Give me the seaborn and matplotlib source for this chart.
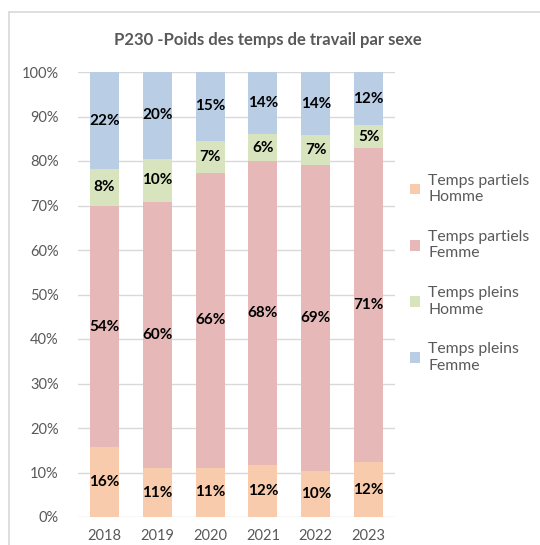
import matplotlib
matplotlib.use("Agg")
import matplotlib.pyplot as plt
from matplotlib.lines import Line2D
import seaborn as sns
import pandas as pd
import numpy as np

years = ["2018", "2019", "2020", "2021", "2022", "2023"]
series_names = ["Temps partiels\nHomme", "Temps partiels\nFemme", "Temps pleins\nHomme", "Temps pleins\nFemme"]
partiel_homme = [15.7, 11.0, 11.1, 11.7, 10.3, 12.3]
partiel_femme = [54.2, 59.8, 66.2, 68.2, 68.7, 70.6]
plein_homme = [8.3, 9.7, 7.3, 6.2, 6.8, 5.1]
plein_femme = [21.8, 19.5, 15.4, 13.9, 14.2, 12.0]
colors = ["#F8CBAD", "#E6B9B8", "#D7E4BD", "#B9CDE5"]
title = "P230 -Poids des temps de travail par sexe"

sns.set_theme(style="white")
plt.rcParams["font.family"] = ["Lato", "DejaVu Sans"]

values = [partiel_homme, partiel_femme, plein_homme, plein_femme]
rows = []
for name, vals in zip(series_names, values):
    for y, v in zip(years, vals):
        rows.append({"year": y, "serie": name, "value": v})
df = pd.DataFrame(rows)

fig = plt.figure(figsize=(5.40, 5.45), dpi=100)
ax = fig.add_axes([78 / 540, 28 / 545, 317 / 540, 445 / 545])

bottom = np.zeros(len(years))
handles = []
for name, vals, col in zip(series_names, values, colors):
    sub = df[df["serie"] == name]
    bars = ax.bar(sub["year"], sub["value"], bottom=bottom, width=0.55, color=col,
                  edgecolor="none", zorder=3, label=name)
    for i, v in enumerate(vals):
        ax.text(i, bottom[i] + v / 2, f"{round(v):.0f}%", ha="center", va="center",
                fontsize=11, fontweight="bold", color="black", zorder=4)
    bottom = bottom + np.array(vals)
    handles.append(bars)

ax.set_xlim(-0.5, 5.5)
ax.set_ylim(0, 100)
ax.set_yticks(np.arange(0, 101, 10))
ax.set_yticklabels([f"{t}%" for t in range(0, 101, 10)])
ax.grid(axis="y", color="#D9D9D9", linewidth=1, zorder=0)
for s in ax.spines.values():
    s.set_visible(False)
ax.tick_params(axis="both", length=0, labelsize=10.5, labelcolor="#595959")
ax.tick_params(axis="y", pad=14)
ax.tick_params(axis="x", pad=9)
ax.set_xlabel("")
ax.set_ylabel("")

fig.text(268 / 540, 1 - 40 / 545, title, ha="center", va="center", fontsize=12,
         fontweight="bold", color="#595959")

leg = fig.legend(handles=handles, labels=series_names, loc="upper left",
                 bbox_to_anchor=(396 / 540, 1 - 160 / 545), frameon=False,
                 fontsize=11.3, labelcolor="#595959", handlelength=0.65, handleheight=0.65,
                 handletextpad=0.5, labelspacing=1.65)

fig.add_artist(Line2D([9 / 540, 9 / 540], [0, 1 - 12 / 545], transform=fig.transFigure,
                      color="#D9D9D9", linewidth=1.2))
fig.add_artist(Line2D([9 / 540, 1], [1 - 12 / 545, 1 - 12 / 545], transform=fig.transFigure,
                      color="#D9D9D9", linewidth=1.2))

fig.savefig("out.png", dpi=100)
